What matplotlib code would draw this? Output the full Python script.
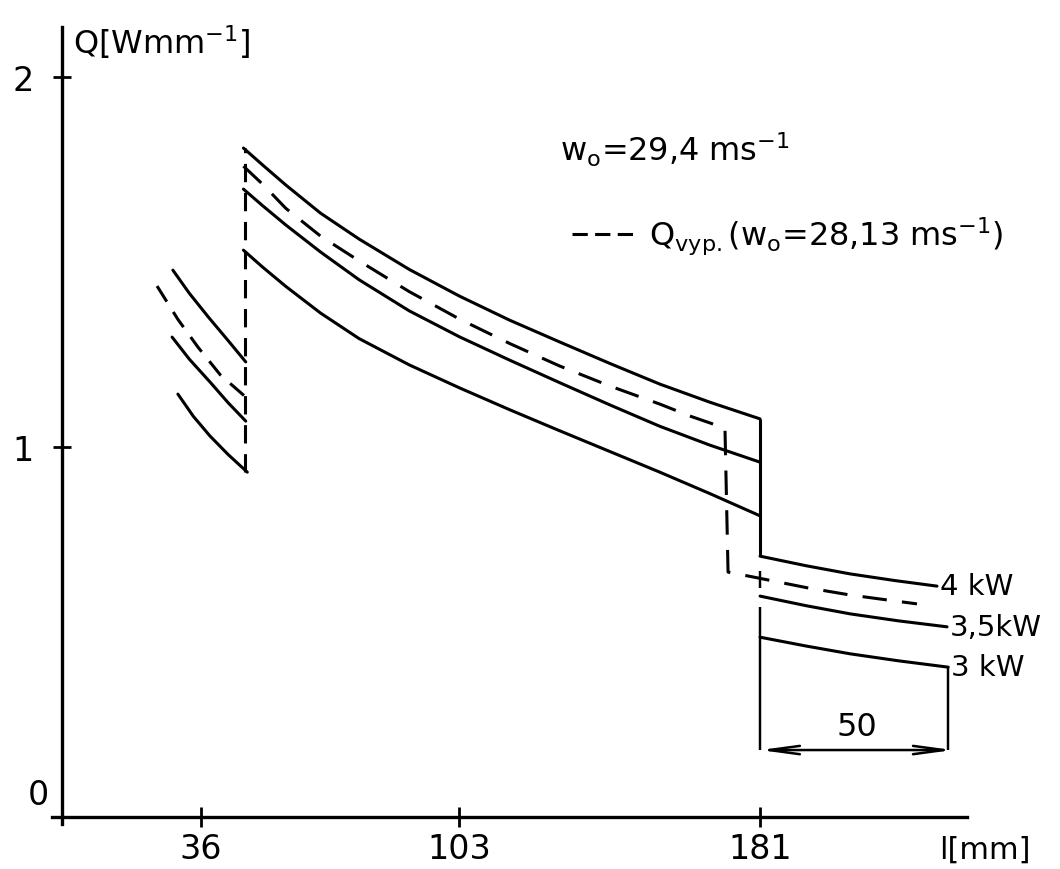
import matplotlib
matplotlib.use("Agg")
import matplotlib.pyplot as plt
from matplotlib.lines import Line2D

# heat flux Q [W/mm] along the length l [mm], three power levels + computed curve
jump_x = 47.5  # first step in the profile

left_4kw_x = [28.7, 33, 38, 43, 47.6]
left_4kw_y = [1.478, 1.415, 1.350, 1.288, 1.230]
left_35kw_x = [28.5, 33, 38.3, 43, 47.6]
left_35kw_y = [1.297, 1.237, 1.176, 1.120, 1.070]
left_3kw_x = [30.0, 34, 38.3, 43, 48.0]
left_3kw_y = [1.143, 1.083, 1.030, 0.980, 0.932]
left_vyp_x = [24.6, 30, 35.2, 41, 47.6]
left_vyp_y = [1.435, 1.345, 1.270, 1.195, 1.135]

main_x = [47, 52, 58, 67, 77, 90, 103, 116, 129, 142, 155, 168, 181]
main_4kw_y = [1.808, 1.762, 1.708, 1.632, 1.562, 1.480, 1.408, 1.343, 1.284, 1.226, 1.170, 1.121, 1.076]
main_35kw_y = [1.697, 1.652, 1.600, 1.527, 1.452, 1.368, 1.298, 1.235, 1.174, 1.114, 1.056, 1.005, 0.959]
main_3kw_y = [1.532, 1.486, 1.434, 1.362, 1.293, 1.222, 1.160, 1.101, 1.044, 0.988, 0.932, 0.874, 0.814]

vyp_x = [47, 52, 58, 67, 77, 90, 103, 116, 129, 142, 155, 163, 171.9,
         172.7, 181, 193, 204.4, 213, 221.7]
vyp_y = [1.759, 1.710, 1.645, 1.570, 1.503, 1.420, 1.346, 1.280, 1.219, 1.165, 1.116, 1.083, 1.051,
         0.662, 0.645, 0.620, 0.600, 0.588, 0.576]

low_4kw_x = [181, 193, 204.4, 216, 226.9]
low_4kw_y = [0.705, 0.679, 0.657, 0.639, 0.624]
low_35kw_x = [181, 193, 204.4, 217, 229.5]
low_35kw_y = [0.597, 0.571, 0.549, 0.530, 0.514]
low_3kw_x = [181, 193, 204.4, 217, 229.8]
low_3kw_y = [0.486, 0.462, 0.441, 0.422, 0.405]

power_labels = ["4 kW", "3,5kW", "3 kW"]
x_ticks = [36, 103, 181]
y_ticks = [1, 2]
dim_y = 0.181
dim_len = 50

LW = 2.2
plt.rcParams["font.family"] = ["DejaVu Sans"]

fig = plt.figure(figsize=(10.6, 8.7), dpi=100)
ax = fig.add_axes([0, 0, 1, 1])
ax.set_xlim(-16.14, 258.8)
ax.set_ylim(-0.1405, 2.2108)

# left pieces
for xs, ys in [(left_4kw_x, left_4kw_y), (left_35kw_x, left_35kw_y), (left_3kw_x, left_3kw_y)]:
    ax.plot(xs, ys, color="black", lw=LW, solid_capstyle="round")
ax.plot(left_vyp_x, left_vyp_y, color="black", lw=LW, ls=(0, (6, 4)))
ax.vlines(jump_x, left_3kw_y[-1], main_4kw_y[0], color="black", lw=LW, linestyles=(0, (6, 3.5)))

# middle pieces
for ys in [main_4kw_y, main_35kw_y, main_3kw_y]:
    ax.plot(main_x, ys, color="black", lw=LW, solid_capstyle="round")
ax.plot(vyp_x, vyp_y, color="black", lw=LW, ls=(0, (8, 5)))

# right pieces
lows = [(low_4kw_x, low_4kw_y), (low_35kw_x, low_35kw_y), (low_3kw_x, low_3kw_y)]
for (xs, ys), lab in zip(lows, power_labels):
    ax.plot(xs, ys, color="black", lw=LW, solid_capstyle="round")
    ax.annotate(lab, (xs[-1], ys[-1]), xytext=(2, 0), textcoords="offset points",
                ha="left", va="center", fontsize=21)

# step at 181 and dimension
ax.vlines(main_x[-1], low_4kw_y[0], main_4kw_y[-1], color="black", lw=LW)
ax.vlines(main_x[-1], 0.62, 0.665, color="black", lw=LW * 0.8)
ax.vlines(main_x[-1], dim_y, 0.568, color="black", lw=LW * 0.8)
ax.vlines(low_3kw_x[-1], dim_y, low_3kw_y[-1], color="black", lw=LW * 0.8)
ax.annotate("", xy=(main_x[-1], dim_y), xytext=(main_x[-1] + dim_len, dim_y),
            arrowprops=dict(arrowstyle="<->,head_length=2.2,head_width=0.3",
                            color="black", lw=1.8, shrinkA=0, shrinkB=0))
ax.text(main_x[-1] + dim_len / 2, dim_y + 0.022, str(dim_len), ha="center", va="bottom", fontsize=23)

# axes
for side in ["top", "right"]:
    ax.spines[side].set_visible(False)
ax.spines["left"].set_position(("data", 0))
ax.spines["bottom"].set_position(("data", 0))
ax.spines["left"].set_bounds(-0.02, 2.135)
ax.spines["bottom"].set_bounds(-2.6, 234.7)
ax.spines["left"].set_linewidth(2.4)
ax.spines["bottom"].set_linewidth(2.4)
ax.set_xticks(x_ticks)
ax.set_xticklabels([str(t) for t in x_ticks], fontsize=24)
ax.set_yticks(y_ticks)
ax.set_yticklabels([str(t) for t in y_ticks], fontsize=24)
ax.tick_params(axis="x", direction="inout", length=15, width=2, pad=3)
ax.tick_params(axis="y", direction="inout", length=13, width=2, pad=14)
ax.text(0.036, 0.086, "0", transform=ax.transAxes, ha="center", va="center", fontsize=24)
ax.text(0.929, 0.023, "l[mm]", transform=ax.transAxes, ha="center", va="center", fontsize=22)
ax.text(0.069, 0.952, r"Q[Wmm$^\mathregular{-1}$]", transform=ax.transAxes,
        ha="left", va="center", fontsize=23)
ax.text(0.528, 0.8276, r"w$_\mathregular{o}$=29,4 ms$^\mathregular{-1}$", transform=ax.transAxes,
        ha="left", va="center", fontsize=23)

vyp_handle = Line2D([], [], color="black", lw=LW, ls=(0, (5, 2.4)))
ax.legend([vyp_handle], [r"Q$_\mathregular{vyp.}$(w$_\mathregular{o}$=28,13 ms$^\mathregular{-1}$)"],
          loc="center left", bbox_to_anchor=(0.540, 0.728),
          frameon=False, fontsize=23, handlelength=1.9, handletextpad=0.5,
          borderaxespad=0, borderpad=0)

fig.savefig("out.png", dpi=100)
